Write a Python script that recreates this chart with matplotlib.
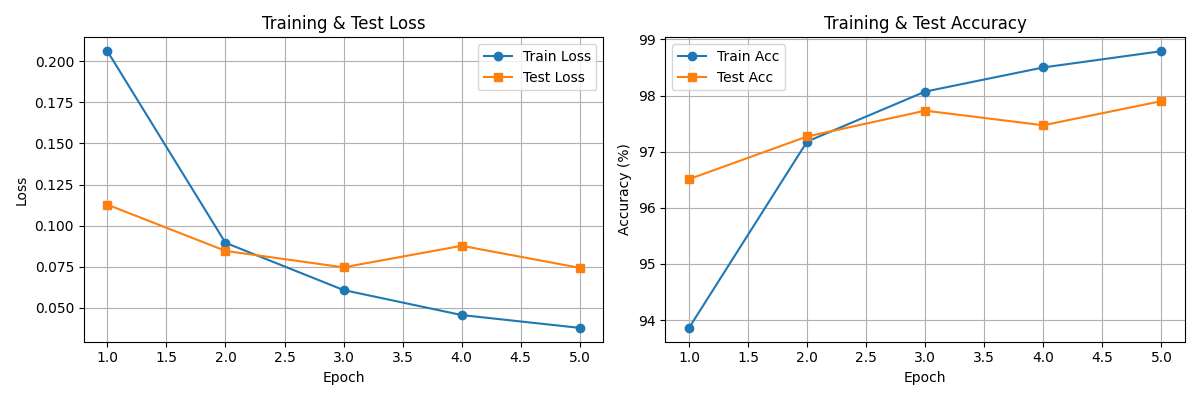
import matplotlib
matplotlib.use("Agg")
import matplotlib.pyplot as plt

epochs = [1, 2, 3, 4, 5]
train_loss = [0.2061, 0.0896, 0.0609, 0.0457, 0.0379]
test_loss = [0.1128, 0.0847, 0.0747, 0.0878, 0.0744]
train_acc = [93.86, 97.18, 98.07, 98.50, 98.79]
test_acc = [96.51, 97.27, 97.73, 97.47, 97.90]

fig, (ax1, ax2) = plt.subplots(1, 2, figsize=(12, 4), dpi=100)

ax1.plot(epochs, train_loss, marker='o', label='Train Loss')
ax1.plot(epochs, test_loss, marker='s', label='Test Loss')
ax1.set_title('Training & Test Loss')
ax1.set_xlabel('Epoch')
ax1.set_ylabel('Loss')
ax1.legend()
ax1.grid(True)

ax2.plot(epochs, train_acc, marker='o', label='Train Acc')
ax2.plot(epochs, test_acc, marker='s', label='Test Acc')
ax2.set_title('Training & Test Accuracy')
ax2.set_xlabel('Epoch')
ax2.set_ylabel('Accuracy (%)')
ax2.legend()
ax2.grid(True)

plt.tight_layout()
plt.savefig('out.png')
